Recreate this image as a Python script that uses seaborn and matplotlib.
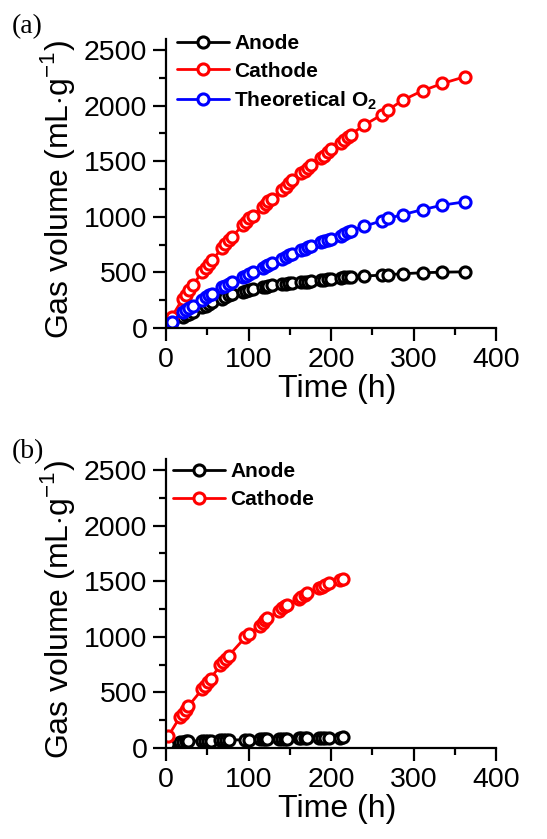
import matplotlib
matplotlib.use("Agg")
import matplotlib.pyplot as plt
import seaborn as sns
import pandas as pd

# ---- panel (a) data ----
time_a = [7, 20, 24, 28, 33, 44, 48, 52, 56, 68, 72, 76, 80, 93, 97, 101, 105,
          117, 121, 124, 128, 141, 145, 149, 153, 164, 168, 172, 176,
          188, 192, 196, 200, 212, 216, 220, 224, 240, 262, 269, 287, 311, 335, 362]
anode_a = [55, 100, 115, 130, 145, 185, 200, 220, 235, 265, 280, 295, 310,
           325, 335, 345, 355, 365, 372, 380, 385, 393, 400, 403, 405,
           410, 413, 417, 420, 428, 433, 440, 445, 450, 455, 458, 460,
           468, 475, 480, 488, 497, 502, 505]
cathode_a = [100, 260, 300, 345, 390, 505, 540, 575, 610, 720, 755, 790, 820,
             925, 955, 985, 1010, 1090, 1115, 1140, 1160, 1240, 1265, 1300, 1330,
             1390, 1415, 1440, 1465, 1525, 1550, 1585, 1610, 1665, 1690, 1715, 1740,
             1825, 1920, 1960, 2050, 2135, 2200, 2260]
theo_o2_a = [55, 140, 160, 180, 195, 255, 275, 295, 310, 365, 380, 400, 415,
             455, 470, 490, 505, 540, 555, 570, 585, 625, 640, 655, 665,
             700, 710, 725, 735, 770, 785, 795, 805, 830, 845, 860, 875,
             915, 965, 985, 1020, 1065, 1105, 1135]

# ---- panel (b) data ----
time_b = [3, 17, 20, 24, 27, 44, 47, 51, 54, 66, 69, 73, 76, 96, 100,
          114, 117, 120, 123, 137, 140, 144, 147, 161, 164, 168, 171,
          185, 189, 193, 197, 211, 214]
anode_b = [40, 55, 58, 60, 62, 63, 64, 65, 66, 68, 69, 70, 71, 74, 75,
           77, 78, 79, 80, 82, 83, 84, 85, 86, 87, 88, 89,
           90, 91, 92, 93, 94, 95]
cathode_b = [110, 280, 310, 345, 375, 530, 560, 595, 625, 745, 770, 800, 830,
             995, 1025, 1100, 1125, 1150, 1165, 1235, 1255, 1275, 1290,
             1340, 1360, 1380, 1395, 1435, 1450, 1465, 1480, 1510, 1520]

sns.set_style("ticks")
plt.rcParams["font.family"] = ["Liberation Sans", "DejaVu Sans"]
plt.rcParams["mathtext.fontset"] = "custom"
plt.rcParams["mathtext.rm"] = "Liberation Sans"
plt.rcParams["mathtext.bf"] = "Liberation Sans:bold"
plt.rcParams["axes.linewidth"] = 1.6
plt.rcParams["text.color"] = "black"
plt.rcParams["axes.labelcolor"] = "black"
plt.rcParams["axes.edgecolor"] = "black"


def draw_series(ax, t, v, color, label):
    df = pd.DataFrame({"t": t, "v": v})
    sns.lineplot(data=df, x="t", y="v", ax=ax, color=color, lw=2.0,
                 marker="o", markersize=8, markerfacecolor="white",
                 markeredgecolor=color, markeredgewidth=2.2, label=label)


def style_axes(ax, legend_x, legend_y):
    ax.set_xlim(0, 400)
    ax.set_ylim(0, 2600)
    ax.set_xticks([0, 100, 200, 300, 400])
    ax.set_xticks([50, 150, 250, 350], minor=True)
    ax.set_yticks([0, 500, 1000, 1500, 2000, 2500])
    ax.set_yticks([250, 750, 1250, 1750, 2250], minor=True)
    ax.tick_params(which="major", length=9.5, width=1.6, labelsize=20.5, pad=4,
                   color="black", labelcolor="black")
    ax.tick_params(which="minor", length=5, width=1.6, color="black")
    sns.despine(ax=ax)
    ax.set_xlabel("Time (h)", fontsize=23)
    ax.set_ylabel(r"Gas volume (mL$\cdot$g$^{-1}$)", fontsize=23)
    ax.xaxis.set_label_coords(0.52, -0.16)
    ax.yaxis.set_label_coords(-0.27, 0.48)
    ax.legend(loc="upper left", bbox_to_anchor=(legend_x, legend_y),
              frameon=False, borderpad=0, borderaxespad=0,
              handlelength=2.5, handletextpad=0.25, labelspacing=0.42,
              prop={"weight": "bold", "size": 15})


fig = plt.figure(figsize=(5.47, 8.39), dpi=100)
ax_a = fig.add_axes([0.3035, 0.6091, 0.6033, 0.3444])
ax_b = fig.add_axes([0.3035, 0.1085, 0.6033, 0.3444])

draw_series(ax_a, time_a, anode_a, "black", "Anode")
draw_series(ax_a, time_a, cathode_a, "#ff0000", "Cathode")
draw_series(ax_a, time_a, theo_o2_a, "#0000ff", r"Theoretical O$_\mathbf{2}$")
style_axes(ax_a, 0.033, 1.018)

draw_series(ax_b, time_b, anode_b, "black", "Anode")
draw_series(ax_b, time_b, cathode_b, "#ff0000", "Cathode")
style_axes(ax_b, 0.021, 0.988)

fig.text(0.022, 1 - 27 / 839, "(a)", family="Liberation Serif", fontsize=20, va="center")
fig.text(0.022, 1 - 452 / 839, "(b)", family="Liberation Serif", fontsize=20, va="center")

fig.savefig("out.png", dpi=100)
